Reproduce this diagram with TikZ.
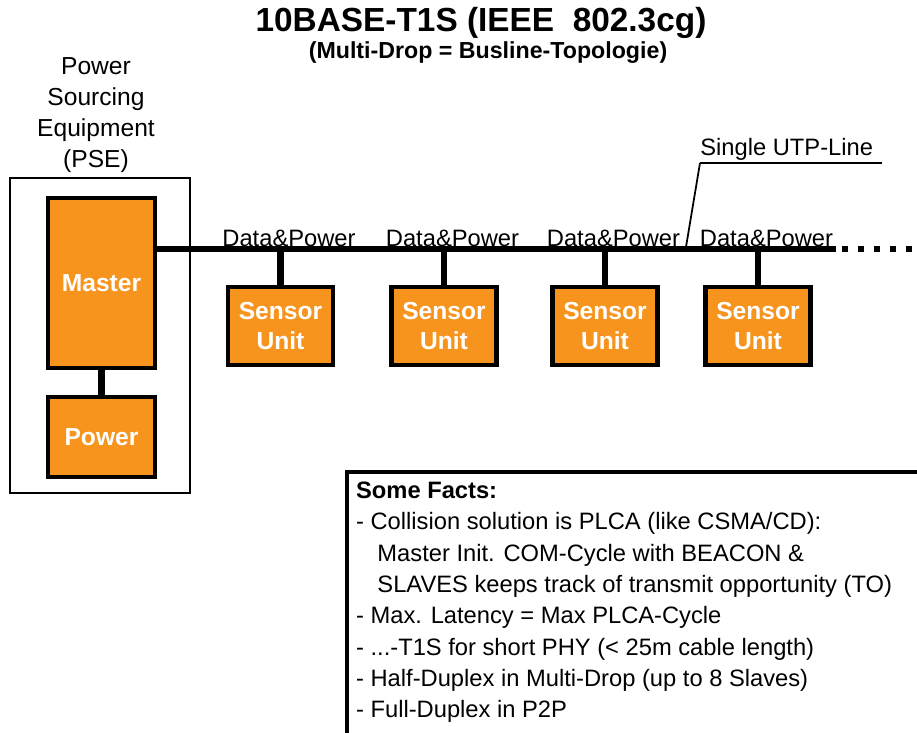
\documentclass[tikz,border=0pt]{standalone}
\usepackage{fontspec}
\setmainfont{Liberation Sans}
\usetikzlibrary{positioning}
\definecolor{unitorange}{RGB}{247,148,30}

\begin{document}
\begin{tikzpicture}[x=0.02cm, y=-0.02cm,
    unit/.style={draw, line width=2.4pt, fill=unitorange, text=white,
      font=\fontsize{14}{17.5}\selectfont\bfseries, align=center, inner sep=0pt},
    lbl/.style={font=\fontsize{13.5}{17.5}\selectfont, inner sep=1pt},
    wire/.style={line width=3.8pt}]
  \clip (0,0) rectangle (917,733);
  \node (title) at (481,23) {\fontsize{19}{22}\selectfont\bfseries 10BASE-T1S (IEEE\ \ 802.3cg)};
  \node[lbl, font=\fontsize{13.2}{15}\selectfont\bfseries] (sub) at (488,53) {(Multi-Drop = Busline-Topologie)};
  \node[lbl, align=center, font=\fontsize{14}{17.8}\selectfont] (psetxt) at (96,115) {Power\\Sourcing\\Equipment\\(PSE)};
  \draw[line width=1.6pt] (10,178) rectangle (190,493);
  \node[unit, minimum width=2.14cm, minimum height=3.4cm] (master) at (101.5,283) {Master};
  \node[unit, minimum width=2.14cm, minimum height=1.6cm] (power) at (101.5,437) {Power};
  \draw[wire] (master.south) -- (power.north);
  % bus line
  \coordinate (busL) at (155,249);
  \coordinate (busR) at (836,249);
  \coordinate (busE) at (925,249);
  \draw[wire] (busL) -- (busR);
  \draw[line width=3.6pt, dash pattern=on 3.4pt off 5.7pt] (busR) ++(6,0) -- (busE);
  \foreach \i/\x in {1/280.5, 2/444, 3/605, 4/758} {
    \node[unit, minimum width=2.1cm, minimum height=1.56cm] (s\i) at (\x,326) {Sensor\\Unit};
    \draw[wire] (s\i.north |- busL) -- (s\i.north);
    \node[lbl, anchor=south] (dp\i) at ([xshift=0.17cm]s\i.north |- busL) {Data\&Power};
  }
  \node[lbl, anchor=south west, inner sep=0pt] (utp) at (700,161) {Single UTP-Line};
  \draw[line width=1pt] (utp.south west) ++(0,2) -- ++(182,0);
  \draw[line width=1pt] (utp.south west) ++(0,2) -- (686,247);
  % facts
  \draw[line width=2pt] (347,472) rectangle (940,760);
  \node[lbl, anchor=north west, align=left, font=\fontsize{13.5}{17.8}\selectfont] (facts) at (354,480)
    {\textbf{Some Facts:}\\
     - Collision solution is PLCA (like CSMA/CD):\\
     \hspace*{0.9em}Master Init. COM-Cycle with BEACON \&\\
     \hspace*{0.9em}SLAVES keeps track of transmit opportunity (TO)\\
     - Max. Latency = Max PLCA-Cycle\\
     - ...-T1S for short PHY (< 25m cable length)\\
     - Half-Duplex in Multi-Drop (up to 8 Slaves)\\
     - Full-Duplex in P2P};
\end{tikzpicture}
\end{document}
